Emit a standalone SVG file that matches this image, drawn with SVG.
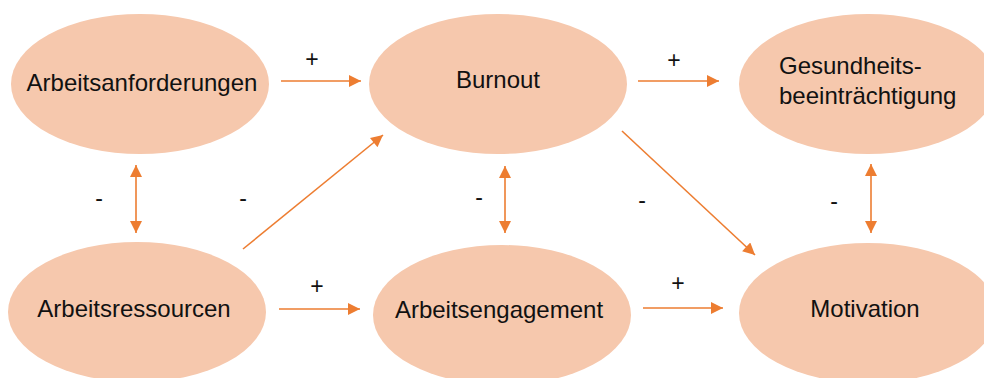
<svg xmlns="http://www.w3.org/2000/svg" width="984" height="378" viewBox="0 0 984 378">
<defs>
<style>
.node ellipse{fill:#F6C8AD;stroke:none}
.lbl{font-family:"Liberation Sans",Arial,sans-serif;font-size:24px;fill:#111}
.sign{font-family:"Liberation Sans",Arial,sans-serif;font-size:23px;fill:#111;text-anchor:middle}
.conn line{stroke:#ED7D31;stroke-width:1.6;fill:none}
</style>
<marker id="ah" viewBox="0 0 10 10" refX="10" refY="5" markerWidth="13" markerHeight="12" markerUnits="userSpaceOnUse" orient="auto-start-reverse">
<path d="M0,0 L10,5 L0,10 z" fill="#ED7D31"/>
</marker>
</defs>
<rect width="984" height="378" fill="#fff"/>
<g id="n-anforderungen" class="node">
<ellipse cx="140" cy="84" rx="129" ry="70"/>
<text class="lbl" x="142" y="91" text-anchor="middle">Arbeitsanforderungen</text>
</g>
<g id="n-burnout" class="node">
<ellipse cx="498" cy="84" rx="129" ry="70"/>
<text class="lbl" x="498" y="88" text-anchor="middle">Burnout</text>
</g>
<g id="n-gesundheit" class="node">
<ellipse cx="868" cy="84" rx="129" ry="70"/>
<text class="lbl" x="779" y="74">Gesundheits-</text>
<text class="lbl" x="779" y="104">beeinträchtigung</text>
</g>
<g id="n-ressourcen" class="node">
<ellipse cx="137" cy="312" rx="129" ry="70"/>
<text class="lbl" x="134" y="317" text-anchor="middle">Arbeitsressourcen</text>
</g>
<g id="n-engagement" class="node">
<ellipse cx="502" cy="315" rx="129" ry="70"/>
<text class="lbl" x="499" y="318" text-anchor="middle">Arbeitsengagement</text>
</g>
<g id="n-motivation" class="node">
<ellipse cx="868" cy="313" rx="129" ry="70"/>
<text class="lbl" x="865" y="317" text-anchor="middle">Motivation</text>
</g>
<g id="connectors" class="conn">
<line x1="281" y1="81" x2="361" y2="81" marker-end="url(#ah)"/>
<line x1="638" y1="81" x2="719" y2="81" marker-end="url(#ah)"/>
<line x1="136" y1="165" x2="136" y2="233" marker-start="url(#ah)" marker-end="url(#ah)"/>
<line x1="243" y1="249" x2="383" y2="135" marker-end="url(#ah)"/>
<line x1="505" y1="166" x2="505" y2="233" marker-start="url(#ah)" marker-end="url(#ah)"/>
<line x1="622" y1="131" x2="755" y2="255" marker-end="url(#ah)"/>
<line x1="279" y1="309" x2="360" y2="309" marker-end="url(#ah)"/>
<line x1="643" y1="308" x2="723" y2="308" marker-end="url(#ah)"/>
<line x1="871" y1="164" x2="871" y2="233" marker-start="url(#ah)" marker-end="url(#ah)"/>
</g>
<g id="signs">
<text class="sign" x="312" y="67">+</text>
<text class="sign" x="674" y="68">+</text>
<text class="sign" x="99" y="206">-</text>
<text class="sign" x="243" y="206">-</text>
<text class="sign" x="479" y="205">-</text>
<text class="sign" x="642" y="208">-</text>
<text class="sign" x="317" y="294">+</text>
<text class="sign" x="678" y="291">+</text>
<text class="sign" x="834" y="209">-</text>
</g>
</svg>
